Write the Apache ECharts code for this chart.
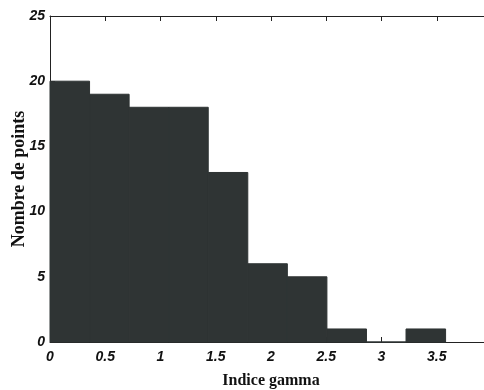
<!DOCTYPE html>
<html>
<head>
<meta charset="utf-8">
<script src="https://cdn.jsdelivr.net/npm/echarts@6/dist/echarts.min.js"></script>
<style>
html,body{margin:0;padding:0;background:#fff;}
#chart{width:484px;height:390px;}
</style>
</head>
<body>
<div id="chart"></div>
<script>
var binEdges = [0, 0.358, 0.716, 1.074, 1.432, 1.79, 2.148, 2.506, 2.864, 3.222, 3.58];
var counts = [20, 19, 18, 18, 13, 6, 5, 1, 0, 1];
var xTicks = ['0', '0.5', '1', '1.5', '2', '2.5', '3', '3.5'];
var yTicks = ['0', '5', '10', '15', '20', '25'];

var data = counts.map(function (c, i) { return [binEdges[i], binEdges[i + 1], c]; });

var chart = echarts.init(document.getElementById('chart'));
var labelFont = { fontFamily: 'Liberation Sans', fontWeight: 'bold', fontStyle: 'italic', fontSize: 14, color: '#111' };
chart.setOption({
  animation: false,
  grid: { left: 50, right: -8, top: 16, bottom: 48, containLabel: false, outerBoundsMode: 'none' },
  xAxis: [{
    type: 'value', min: 0, max: 4, interval: 0.5,
    position: 'bottom',
    axisLine: { lineStyle: { color: '#222', width: 1 } },
    axisTick: { inside: true, length: 5, lineStyle: { color: '#222' } },
    splitLine: { show: false },
    axisLabel: Object.assign({ margin: 8, formatter: function (v) { var s = String(v); return xTicks.indexOf(s) >= 0 ? s : ''; } }, labelFont),
    name: 'Indice gamma', nameLocation: 'middle', nameGap: 31, nameMoveOverlap: false,
    nameTextStyle: { fontFamily: 'Liberation Serif', fontWeight: 'bold', fontSize: 16, color: '#111' }
  }, {
    type: 'value', min: 0, max: 4, interval: 0.5,
    position: 'top',
    axisLine: { lineStyle: { color: '#222', width: 1 } },
    axisTick: { inside: true, length: 5, lineStyle: { color: '#222' } },
    axisLabel: { show: false },
    splitLine: { show: false }
  }],
  yAxis: {
    type: 'value', min: 0, max: 25, interval: 5,
    axisLine: { show: true, lineStyle: { color: '#222', width: 1 } },
    axisTick: { show: true, inside: true, length: 5, lineStyle: { color: '#222' } },
    splitLine: { show: false },
    axisLabel: Object.assign({ margin: 5, formatter: function (v) { var s = String(v); return yTicks.indexOf(s) >= 0 ? s : ''; } }, labelFont),
    name: 'Nombre de points', nameLocation: 'middle', nameGap: 22, nameMoveOverlap: false,
    nameTextStyle: { fontFamily: 'Liberation Serif', fontWeight: 'bold', fontSize: 18, color: '#111' }
  },
  series: [{
    type: 'custom',
    data: data,
    renderItem: function (params, api) {
      var p0 = api.coord([api.value(0), api.value(2)]);
      var p1 = api.coord([api.value(1), 0]);
      return {
        type: 'rect',
        shape: { x: p0[0], y: p0[1], width: p1[0] - p0[0], height: p1[1] - p0[1] },
        style: { fill: '#2f3434', stroke: '#2f3434', lineWidth: 1 }
      };
    },
    encode: { x: [0, 1], y: 2 }
  }]
});
</script>
</body>
</html>
